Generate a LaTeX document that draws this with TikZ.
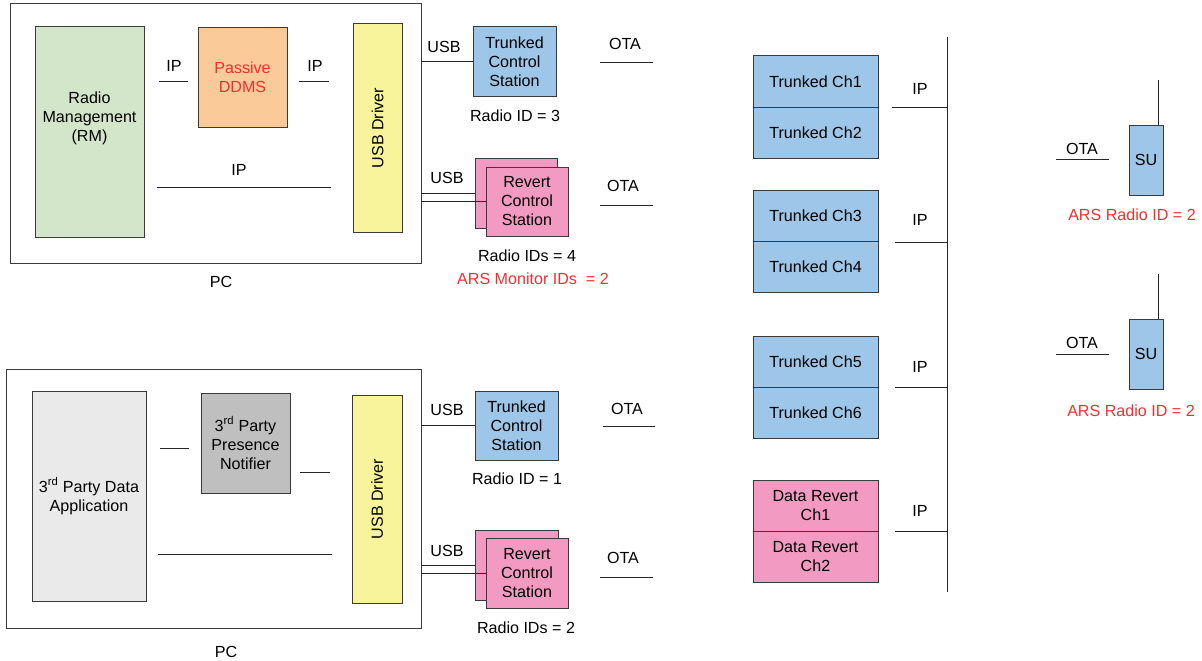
\documentclass[tikz,border=0pt]{standalone}
\usepackage{fontspec}
\setmainfont{Liberation Sans}
\definecolor{rmgreen}{HTML}{D4E6C9}
\definecolor{ddmsorange}{HTML}{FACB98}
\definecolor{drvyellow}{HTML}{F7F49B}
\definecolor{chblue}{HTML}{9DC6E8}
\definecolor{rpink}{HTML}{F39AC3}
\definecolor{apgray}{HTML}{EAEAEA}
\definecolor{pngray}{HTML}{BFBFBF}
\definecolor{txtred}{HTML}{F03030}
\definecolor{edge}{HTML}{3A3A3A}
\begin{document}
\begin{tikzpicture}[x=1pt,y=-1pt,
  font=\fontsize{16.1}{19}\selectfont,
  box/.style={draw=edge, line width=1pt, inner sep=0pt, outer sep=0pt, anchor=center, align=center},
  ln/.style={draw=black!85, line width=0.95pt},
  lbl/.style={inner sep=0pt, anchor=center},
  redtxt/.style={lbl, text=txtred}]
\useasboundingbox (0,0) rectangle (1202,661);

% ---------- top PC ----------
\node[box, minimum width=411pt, minimum height=259pt] (pc1) at (215.5,133.5) {};
\node[lbl] (pc1lbl) at (221,282) {PC};
\node[box, fill=rmgreen, minimum width=109pt, minimum height=210pt,
      label={[yshift=14pt, align=center]center:Radio\\Management\\(RM)}] (rm) at (89.5,132) {};
\node[box, fill=ddmsorange, minimum width=89pt, minimum height=99pt, text=txtred] (ddms) at (242.5,77.5) {Passive\\DDMS};
\node[box, fill=drvyellow, rotate=90, minimum width=208pt, minimum height=49pt] (usb1) at (377.5,128) {USB Driver};

\draw[ln] (159,81) -- (188,81);
\draw[ln] (299,81) -- (329,81);
\draw[ln] (157,187) -- (331,187);
\node[lbl] (ip1a) at (174,66) {IP};
\node[lbl] (ip1b) at (315,66) {IP};
\node[lbl] (ip1c) at (239,170) {IP};

\node[box, fill=chblue, minimum width=83pt, minimum height=69pt] (tcs1) at (514.5,61.5) {Trunked\\Control\\Station};
\node[box, fill=rpink, minimum width=82pt, minimum height=70pt] (rcs1b) at (516,193) {};
\node[box, fill=rpink, minimum width=82pt, minimum height=69pt] (rcs1) at (527,201.5) {Revert\\Control\\Station};

\draw[ln] (pc1.east |- tcs1.west) -- (tcs1.west);
\draw[ln] (pc1.east |- rcs1b.west) -- (rcs1b.west);
\draw[ln] (pc1.east |- rcs1.west) -- (rcs1.west);
\node[lbl] (usb1a) at (444,47) {USB};
\node[lbl] (usb1b) at (447,178) {USB};
\node[lbl] (rid3) at (515,116) {Radio ID = 3};
\node[lbl] (rid4) at (527,256) {Radio IDs = 4};
\node[redtxt] (ars1) at (533,279) {ARS Monitor IDs \ = 2};

\draw[ln] (600,62) -- (653,62);
\draw[ln] (600,205) -- (653,205);
\node[lbl] (ota1) at (625,44) {OTA};
\node[lbl] (ota2) at (623,186) {OTA};

% ---------- bottom PC ----------
\node[box, minimum width=415pt, minimum height=259pt] (pc2) at (213.5,498.5) {};
\node[lbl] (pc2lbl) at (226,652) {PC};
\node[box, fill=apgray, minimum width=114pt, minimum height=210pt] (app) at (89,496) {3\textsuperscript{rd} Party Data\\Application};
\node[box, fill=pngray, minimum width=89pt, minimum height=100pt] (pn) at (245.5,443) {3\textsuperscript{rd} Party\\Presence\\Notifier};
\node[box, fill=drvyellow, rotate=90, minimum width=208pt, minimum height=50pt] (usb2) at (377,499) {USB Driver};

\draw[ln] (160,448) -- (189,448);
\draw[ln] (300,472) -- (330,472);
\draw[ln] (158,554) -- (332,554);

\node[box, fill=chblue, minimum width=83pt, minimum height=69pt] (tcs2) at (516.5,425.5) {Trunked\\Control\\Station};
\node[box, fill=rpink, minimum width=83pt, minimum height=70pt] (rcs2b) at (516.5,565) {};
\node[box, fill=rpink, minimum width=82pt, minimum height=70pt] (rcs2) at (527,573) {Revert\\Control\\Station};

\draw[ln] (pc2.east |- tcs2.west) -- (tcs2.west);
\draw[ln] (pc2.east |- rcs2b.west) -- (rcs2b.west);
\draw[ln] (pc2.east |- rcs2.west) -- (rcs2.west);
\node[lbl] (usb2a) at (447,410) {USB};
\node[lbl] (usb2b) at (447,551) {USB};
\node[lbl] (rid1) at (517,479) {Radio ID = 1};
\node[lbl] (rid2) at (526,628) {Radio IDs = 2};

\draw[ln] (603,426) -- (655,426);
\draw[ln] (600,577) -- (653,577);
\node[lbl] (ota3) at (627,409) {OTA};
\node[lbl] (ota4) at (623,558) {OTA};

% ---------- channels ----------
\node[box, fill=chblue, minimum width=125pt, minimum height=51pt] (ch1) at (815.5,81.5) {Trunked Ch1};
\node[box, fill=chblue, minimum width=125pt, minimum height=51pt] (ch2) at (815.5,132.5) {Trunked Ch2};
\node[box, fill=chblue, minimum width=125pt, minimum height=51pt] (ch3) at (815.5,215.5) {Trunked Ch3};
\node[box, fill=chblue, minimum width=125pt, minimum height=51pt] (ch4) at (815.5,266.5) {Trunked Ch4};
\node[box, fill=chblue, minimum width=125pt, minimum height=51pt] (ch5) at (815.5,361.5) {Trunked Ch5};
\node[box, fill=chblue, minimum width=125pt, minimum height=51pt] (ch6) at (815.5,412.5) {Trunked Ch6};
\node[box, fill=rpink, minimum width=125pt, minimum height=51pt] (dr1) at (815.5,505.5) {Data Revert\\Ch1};
\node[box, fill=rpink, minimum width=125pt, minimum height=51pt] (dr2) at (815.5,556.5) {Data Revert\\Ch2};

\coordinate (bustop) at (947,37);
\coordinate (busbot) at (947,592);
\draw[ln] (bustop) -- (busbot);
\coordinate (ipa) at (892,107);
\coordinate (ipb) at (895,242);
\coordinate (ipc) at (895,387);
\coordinate (ipd) at (895,531);
\draw[ln] (ipa) -- (bustop |- ipa);
\draw[ln] (ipb) -- (bustop |- ipb);
\draw[ln] (ipc) -- (bustop |- ipc);
\draw[ln] (ipd) -- (bustop |- ipd);
\node[lbl] (ipla) at (920,89) {IP};
\node[lbl] (iplb) at (920,220) {IP};
\node[lbl] (iplc) at (920,367) {IP};
\node[lbl] (ipld) at (920,511) {IP};

% ---------- subscriber units ----------
\node[box, fill=chblue, minimum width=34pt, minimum height=70pt] (su1) at (1146,160) {SU};
\node[box, fill=chblue, minimum width=34pt, minimum height=70pt] (su2) at (1146,354) {SU};
\coordinate (ant1) at (1158,80);
\coordinate (ant2) at (1158,274);
\draw[ln] (ant1) -- (ant1 |- su1.north);
\draw[ln] (ant2) -- (ant2 |- su2.north);
\draw[ln] (1056,159) -- (1109,159);
\draw[ln] (1056,354) -- (1109,354);
\node[lbl] (ota5) at (1082,149) {OTA};
\node[lbl] (ota6) at (1082,343) {OTA};
\node[redtxt] (ars2) at (1132,215) {ARS Radio ID = 2};
\node[redtxt] (ars3) at (1131,411) {ARS Radio ID = 2};
\end{tikzpicture}
\end{document}
